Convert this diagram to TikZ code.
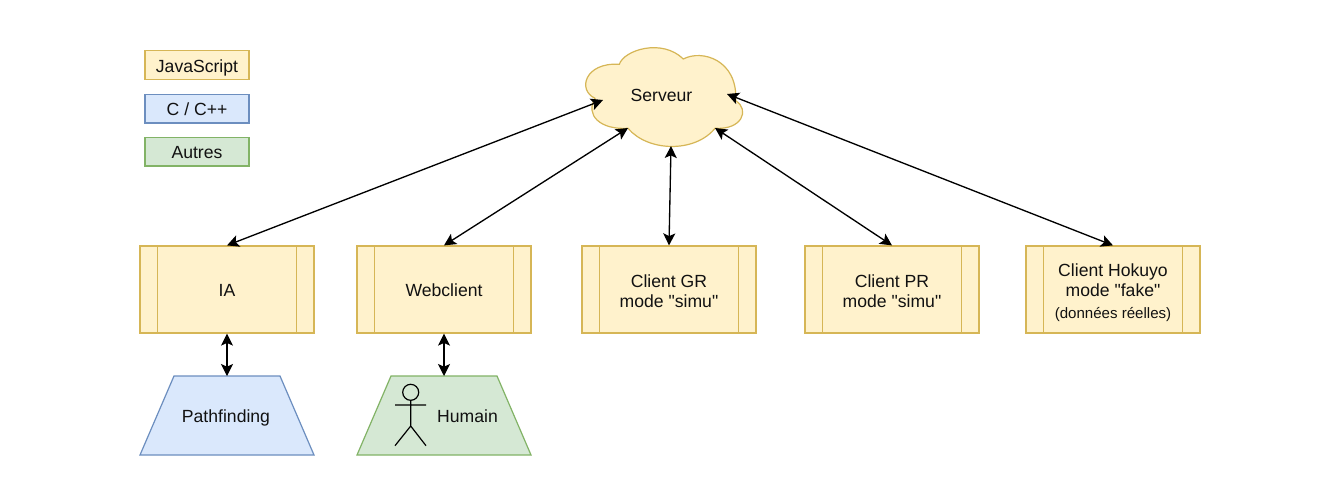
\documentclass[tikz,border=0pt]{standalone}
\usepackage{fontspec}
\setmainfont{Liberation Sans}[Ligatures=TeXOff]
\usetikzlibrary{
  arrows.meta
}
\definecolor{jsfill}{HTML}{FFF2CC}
\definecolor{jsline}{HTML}{D6B656}
\definecolor{cppfill}{HTML}{DAE8FC}
\definecolor{cppline}{HTML}{6C8EBF}
\definecolor{otherfill}{HTML}{D5E8D4}
\definecolor{otherline}{HTML}{82B366}
\definecolor{labelcolor}{HTML}{111111}
\newcommand{\smalltext}{\fontsize{11.3}{14}\selectfont}
\tikzset{
blocktext/.style={
  align=center,
  font=\fontsize{13.2}{15.2}\selectfont,
  text=labelcolor
},
oneline/.style={
  text height=11pt,
  text depth=0pt
},
legendblock/.style={
  draw,
  line width=0.9pt,
  minimum height=21.6pt,
  minimum width=78pt,
  inner sep=0pt,
  blocktext,
  oneline
},
processblock/.style={
  draw=jsline,
  fill=jsfill,
  line width=0.9pt,
  minimum height=65.25pt,
  minimum width=130.5pt,
  inner sep=0pt,
  blocktext,
  path picture={
    \draw[jsline, line width=0.9pt]
      ([xshift=13pt]path picture bounding box.north west) -- ([xshift=13pt]path picture bounding box.south west)
      ([xshift=-13pt]path picture bounding box.north east) -- ([xshift=-13pt]path picture bounding box.south east);
  }
},
trapblock/.style={
  line width=0.9pt,
  line join=miter
},
arrow/.style={
  {Stealth[length=9pt,width=9pt,inset=2pt]}-{Stealth[length=9pt,width=9pt,inset=2pt]},
  line width=1pt,
  draw=black
}
}
\begin{document}
\begin{tikzpicture}[x=0.75pt,y=-0.75pt]
  \useasboundingbox (0,0) rectangle (1333,497);
  \fill[white] (0,0) rectangle (1333,497);

  % legend
  \node[legendblock, draw=jsline, fill=jsfill] (legendjs) at (197,65) {JavaScript};
  \node[legendblock, draw=cppline, fill=cppfill] (legendcpp) at (197,108.5) {C / C++};
  \node[legendblock, draw=otherline, fill=otherfill] (legendother) at (197,151.5) {Autres};

  % cloud
  \draw[jsline, fill=jsfill, line width=0.9pt]
    (619.3,64.3) .. controls (624,50) and (662,38) .. (683.3,59)
    .. controls (702,49) and (738,60) .. (735.7,100.7)
    .. controls (750,110) and (742,130) .. (715,128.3)
    .. controls (695,153) and (648,152) .. (628,128.3)
    .. controls (600,130) and (585,115) .. (595,98.3)
    .. controls (577,90) and (585,62) .. (619.3,64.3) -- cycle;
  \node[blocktext, oneline] (serveur) at (661.5,94) {Serveur};
  \coordinate (serveurwest) at (603,100);
  \coordinate (serveursw) at (628,128);
  \coordinate (serveursouth) at (671,146);
  \coordinate (serveurse) at (715,128);
  \coordinate (serveureast) at (727,94);

  % clients
  \node[processblock, oneline] (ia) at (227,289.5) {IA};
  \node[processblock, oneline] (webclient) at (444,289.5) {Webclient};
  \node[processblock] (clientgr) at (669,289.5) {\rule{0pt}{12.5pt}Client GR\\mode "simu"};
  \node[processblock] (clientpr) at (892,289.5) {\rule{0pt}{12.5pt}Client PR\\mode "simu"};
  \node[processblock] (clienthokuyo) at (1113,289.5) {\rule{0pt}{14pt}Client Hokuyo\\mode "fake"\\[1pt]{\smalltext (données réelles)}};

  % lower blocks
  \draw[trapblock, draw=cppline, fill=cppfill] (140,455) -- (174,376) -- (280,376) -- (314,455) -- cycle;
  \node[blocktext, oneline] (pathfinding) at (226,415) {Pathfinding};
  \coordinate (pathfindingtop) at (227,376);
  \draw[trapblock, draw=otherline, fill=otherfill] (357,455) -- (391,376) -- (497,376) -- (531,455) -- cycle;
  \node[blocktext, oneline] (humain) at (467.5,415) {Humain};
  \coordinate (humaintop) at (444,376);

  % stick figure
  \draw[black, line width=0.9pt]
    (410.7,392.3) circle (8)
    (410.7,400.3) -- (410.7,426)
    (395,405) -- (426,405)
    (395,445.7) -- (410.7,426) -- (426,445.7);

  % connectors
  \draw[arrow] (ia.north) -- (serveurwest);
  \draw[arrow] (webclient.north) -- (serveursw);
  \draw[arrow] (clientgr.north) -- (serveursouth);
  \draw[arrow] (clientpr.north) -- (serveurse);
  \draw[arrow] (clienthokuyo.north) -- (serveureast);
  \draw[arrow] (ia.south) -- (pathfindingtop);
  \draw[arrow] (webclient.south) -- (humaintop);
\end{tikzpicture}
\end{document}
